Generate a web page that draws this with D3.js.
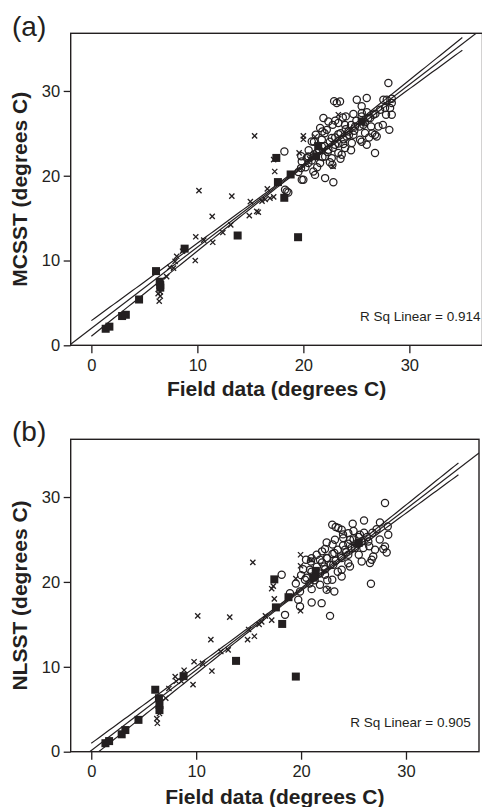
<!DOCTYPE html>
<html>
<head>
<meta charset="utf-8">
<script src="https://cdn.jsdelivr.net/npm/d3@7"></script>
<style>
  html, body { margin: 0; padding: 0; background: #fff; }
  svg { display: block; }
  text { font-family: "Liberation Sans", Arial, Helvetica, sans-serif; fill: #231f20; }
</style>
</head>
<body>
<svg id="chart" width="482" height="807"></svg>
<script>
// ---------------- DATA ----------------
const panelLabels = ["(a)", "(b)"];
const yTitles = ["MCSST (degrees C)", "NLSST (degrees C)"];
const xTitle = "Field data (degrees C)";
const rsqLabels = ["R Sq Linear = 0.914", "R Sq Linear = 0.905"];
const xTicks = [0, 10, 20, 30];
const yTicks = [0, 10, 20, 30];

// regression fits: [panel a, panel b]
const fitIntercept = [1.99, 0.14];
const fitSlope = [0.959, 0.948];
// 95% CI band half-width parameters (min half width, centre x, growth)
const ciMin = [0.15, 0.15];
const ciCentre = [19.4, 19.3];
const ciGrowth = [0.0468, 0.0433];
const ciRange = [0, 35.1];

// filled squares (same field x in both panels)
const squaresX = [1.35, 1.7, 2.9, 3.25, 4.5, 6.1, 6.45, 6.5, 6.5, 8.8, 13.8, 17.45, 17.6, 18.2, 18.8, 19.5, 21.4, 21.2, 25.5];
const squaresA = [1.95, 2.2, 3.45, 3.6, 5.4, 8.75, 7.5, 7.1, 6.8, 11.4, 12.95, 22.1, 19.25, 17.4, 20.15, 12.75, 23.5, 22.3, 26.4];
const squaresB = [1.0, 1.25, 2.05, 2.55, 3.75, 7.3, 6.3, 5.5, 4.9, 8.9, 10.7, 20.3, 17.0, 15.05, 18.2, 8.85, 21.3, 20.5, 24.6];

const crossesA = [[15.4,24.7],[10.15,18.25],[13.25,17.6],[11.4,15.2],[15.0,16.95],[15.6,15.8],[14.9,15.3],[13.15,14.2],[12.4,13.3],[9.85,12.8],[10.6,12.4],[11.45,12.15],[9.8,10.0],[8.05,10.5],[7.9,9.9],[7.75,9.1],[7.1,8.1],[6.5,6.3],[6.3,6.1],[6.5,5.8],[6.4,5.2],[8.6,11.1],[17.2,21.9],[17.3,20.5],[20.0,24.7],[20.0,24.3],[19.6,22.7],[17.2,17.5],[16.4,17.2],[16.1,17.0],[16.6,18.45],[16.85,17.35],[15.75,15.7],[22.8,21.1],[23.3,27.2],[21.1,24.6],[7.4,9.2],[20.6,22.0],[21.9,23.0]];
const crossesB = [[15.4,22.3],[10.15,16.0],[13.2,15.85],[11.4,13.2],[14.9,13.2],[15.0,14.4],[15.55,13.6],[13.05,12.0],[12.35,11.8],[9.8,10.6],[10.6,10.4],[11.5,9.5],[9.7,7.9],[8.85,9.6],[8.0,8.85],[8.1,8.3],[8.6,8.3],[7.4,7.45],[7.1,6.3],[6.5,4.5],[6.25,3.9],[6.3,3.35],[19.95,23.2],[19.95,21.9],[19.5,20.4],[17.35,19.5],[17.2,19.2],[17.45,18.0],[17.2,15.5],[16.25,15.3],[19.95,16.6],[21.0,22.6],[22.6,19.1],[16.0,15.0],[16.6,16.0]];

const circlesA = [[28.02,30.93],[25.98,29.16],[25.04,28.96],[23.46,28.76],[23.15,28.57],[22.9,28.8],[27.55,28.96],[27.87,28.96],[28.34,29.08],[28.34,28.57],[28.18,27.98],[28.34,27.19],[24.72,27.27],[25.51,27.39],[23.72,26.87],[23.93,26.0],[22.77,26.0],[22.21,25.41],[21.79,25.22],[24.88,25.81],[25.66,26.0],[26.39,25.81],[27.08,25.81],[26.76,24.83],[28.11,25.41],[26.92,24.63],[25.82,25.03],[24.72,24.83],[24.09,24.63],[23.3,24.91],[22.68,24.44],[21.74,24.24],[21.17,24.83],[20.79,24.04],[22.99,23.65],[23.77,23.73],[24.57,23.85],[22.36,23.06],[23.3,22.67],[23.93,23.26],[26.76,22.67],[21.26,22.67],[22.05,22.27],[20.47,22.27],[22.68,22.08],[23.62,22.47],[21.58,21.49],[22.74,21.29],[20.47,21.49],[19.78,20.9],[20.94,20.5],[21.1,20.1],[22.05,19.72],[22.83,19.24],[20.0,19.52],[19.53,20.43],[18.21,22.86],[18.58,18.02],[18.27,18.34],[20.32,22.08],[19.85,21.68],[21.74,23.45],[25.35,24.24],[25.98,23.65],[24.25,25.22],[22.36,26.4],[23.3,26.21],[21.58,25.62],[27.24,27.78],[27.71,27.98],[26.6,27.19],[26.13,26.8],[21.89,26.8],[18.43,18.13],[19.85,19.52],
[20.5,23.0],[21.0,22.5],[21.5,23.0],[22.0,23.5],[22.5,24.0],[23.0,24.5],[23.5,25.0],[24.0,25.5],[24.5,26.0],[25.0,26.5],[25.5,27.0],[26.0,27.5],[20.8,21.8],[21.3,21.0],[21.8,22.2],[22.3,22.8],[22.8,23.3],[23.3,23.8],[23.8,24.3],[24.3,24.8],[24.8,25.3],[25.3,25.8],[25.8,26.3],[26.3,26.8],[26.8,27.3],[20.2,21.0],[19.8,22.3],[21.0,24.0],[22.0,25.0],[23.0,26.5],[24.0,27.0],[25.5,28.2],[22.5,21.6],[23.5,22.0],[24.5,23.0],[25.5,24.0],[26.5,25.0],[27.5,26.0],[27.8,27.2],[26.2,24.5]];

const circlesB = [[28.0,29.3],[22.97,26.73],[23.3,26.46],[23.55,26.34],[24.92,26.85],[26.0,27.24],[27.52,27.0],[28.26,26.53],[28.31,25.55],[28.0,24.17],[28.16,23.47],[26.73,22.6],[26.88,23.0],[26.66,19.78],[22.44,24.65],[23.23,24.96],[24.02,25.16],[24.66,24.96],[25.61,25.55],[26.41,24.76],[25.45,24.58],[25.14,23.99],[25.93,23.99],[27.05,23.79],[24.19,23.79],[23.17,23.4],[23.87,22.81],[24.5,23.2],[22.44,22.81],[21.8,22.6],[22.21,21.82],[23.07,22.02],[23.87,21.43],[24.66,21.82],[20.94,22.41],[20.85,21.43],[20.37,20.25],[21.32,20.64],[22.28,20.84],[23.87,20.64],[22.97,20.25],[21.8,19.66],[23.17,18.87],[22.44,19.07],[21.01,19.15],[19.9,18.87],[18.94,18.68],[21.01,17.57],[21.96,17.5],[19.73,17.89],[19.9,17.1],[18.47,16.12],[22.76,16.0],[18.15,20.84],[20.47,22.6],[21.49,23.2],[22.28,23.87],[25.78,22.41],[26.57,22.22],[24.5,25.75],[23.87,26.14],[27.84,23.87],
[20.5,20.5],[21.0,21.2],[21.5,21.8],[22.0,22.3],[22.5,22.8],[23.0,23.3],[23.5,23.8],[24.0,24.3],[24.5,24.5],[25.0,25.0],[25.5,25.3],[26.0,25.8],[20.8,19.8],[21.3,20.2],[21.8,21.0],[22.3,21.5],[22.8,22.0],[23.3,22.5],[23.8,23.0],[24.3,23.5],[24.8,24.0],[25.3,24.5],[25.8,24.8],[26.3,25.3],[26.8,25.8],[20.2,21.5],[21.0,22.8],[22.0,23.6],[23.0,24.4],[24.0,25.6],[25.0,26.0],[22.5,20.2],[23.5,21.2],[24.5,22.2],[25.5,23.2],[26.5,24.2],[27.5,25.0],[27.2,26.2],[19.5,19.8],[20.0,20.8]];

// ---------------- LAYOUT ----------------
const INK = "#231f20";
const panels = [
  { box: {left: 70.7, right: 482.5, top: 33.3, bottom: 345.3}, xDomain: [-1.95, 36.9], yDomain: [0, 36.8],
    labelY: 36, titleY: 396, rsqX: 480.5, rsqY: 320.7,
    squares: squaresA, crosses: crossesA, circles: circlesA },
  { box: {left: 70.7, right: 479, top: 439.3, bottom: 751.7}, xDomain: [-1.96, 36.96], yDomain: [0, 36.8],
    labelY: 441, titleY: 803.5, rsqX: 470.7, rsqY: 726.7,
    squares: squaresB, crosses: crossesB, circles: circlesB }
];

const svg = d3.select("#chart");

panels.forEach((p, i) => {
  const b = p.box;
  const x = d3.scaleLinear().domain(p.xDomain).range([b.left, b.right]);
  const y = d3.scaleLinear().domain(p.yDomain).range([b.bottom, b.top]);
  const g = svg.append("g");

  const clipId = "clip" + i;
  g.append("clipPath").attr("id", clipId).append("rect")
    .attr("x", b.left).attr("y", b.top).attr("width", b.right - b.left).attr("height", b.bottom - b.top);

  // panel label
  g.append("text").attr("x", 12).attr("y", p.labelY).attr("font-size", 28).text(panelLabels[i]);

  // axes
  const xAxis = g.append("g").attr("transform", `translate(0,${b.bottom})`)
    .call(d3.axisBottom(x).tickValues(xTicks).tickSize(8).tickPadding(5.5).tickFormat(d3.format("d")));
  const yAxis = g.append("g").attr("transform", `translate(${b.left},0)`)
    .call(d3.axisLeft(y).tickValues(yTicks).tickSize(7).tickPadding(3.5).tickFormat(d3.format("d")));
  [xAxis, yAxis].forEach(a => {
    a.select(".domain").remove();
    a.selectAll("line").attr("stroke", INK).attr("stroke-width", 1.3);
    a.selectAll("text").attr("font-size", 16.5).attr("fill", INK)
      .style("font-family", '"Liberation Sans", Arial, Helvetica, sans-serif');
  });

  // frame
  g.append("rect").attr("x", b.left).attr("y", b.top)
    .attr("width", b.right - b.left).attr("height", b.bottom - b.top)
    .attr("fill", "none").attr("stroke", INK).attr("stroke-width", 1.4);

  // axis titles
  g.append("text").attr("x", (b.left + b.right) / 2).attr("y", p.titleY)
    .attr("text-anchor", "middle").attr("font-size", 21).attr("font-weight", "bold").text(xTitle);
  g.append("text").attr("transform", `translate(27,${(b.top + b.bottom) / 2}) rotate(-90)`)
    .attr("text-anchor", "middle").attr("font-size", 21).attr("font-weight", "bold").text(yTitles[i]);

  // R squared label
  g.append("text").attr("x", p.rsqX).attr("y", p.rsqY).attr("text-anchor", "end")
    .attr("font-size", 13.5).text(rsqLabels[i]);

  // fit line + CI band
  const lines = g.append("g").attr("clip-path", `url(#${clipId})`);
  const fit = v => fitIntercept[i] + fitSlope[i] * v;
  const half = v => Math.sqrt(ciMin[i] ** 2 + (ciGrowth[i] * (v - ciCentre[i])) ** 2);
  const line = d3.line().x(d => x(d[0])).y(d => y(d[1]));
  const fx = p.xDomain;
  lines.append("path").datum([[fx[0], fit(fx[0])], [fx[1], fit(fx[1])]])
    .attr("d", line).attr("fill", "none").attr("stroke", INK).attr("stroke-width", 1.2);
  const xs = d3.range(ciRange[0], ciRange[1] + 0.001, 0.35);
  [1, -1].forEach(s => {
    lines.append("path").datum(xs.map(v => [v, fit(v) + s * half(v)]))
      .attr("d", line).attr("fill", "none").attr("stroke", INK).attr("stroke-width", 1.2);
  });

  // circles
  g.append("g").selectAll("circle").data(p.circles).join("circle")
    .attr("cx", d => x(d[0])).attr("cy", d => y(d[1])).attr("r", 3.6)
    .attr("fill", "none").attr("stroke", INK).attr("stroke-width", 1.25);

  // crosses
  const cs = 2.6;
  g.append("g").selectAll("path").data(p.crosses).join("path")
    .attr("d", d => {
      const cx = x(d[0]), cy = y(d[1]);
      return `M${cx - cs},${cy - cs}L${cx + cs},${cy + cs}M${cx - cs},${cy + cs}L${cx + cs},${cy - cs}`;
    })
    .attr("stroke", INK).attr("stroke-width", 1.3).attr("fill", "none");

  // squares
  const sq = 8;
  g.append("g").selectAll("rect").data(squaresX.map((v, k) => [v, p.squares[k]])).join("rect")
    .attr("x", d => x(d[0]) - sq / 2).attr("y", d => y(d[1]) - sq / 2)
    .attr("width", sq).attr("height", sq).attr("fill", INK);
});
</script>
</body>
</html>
